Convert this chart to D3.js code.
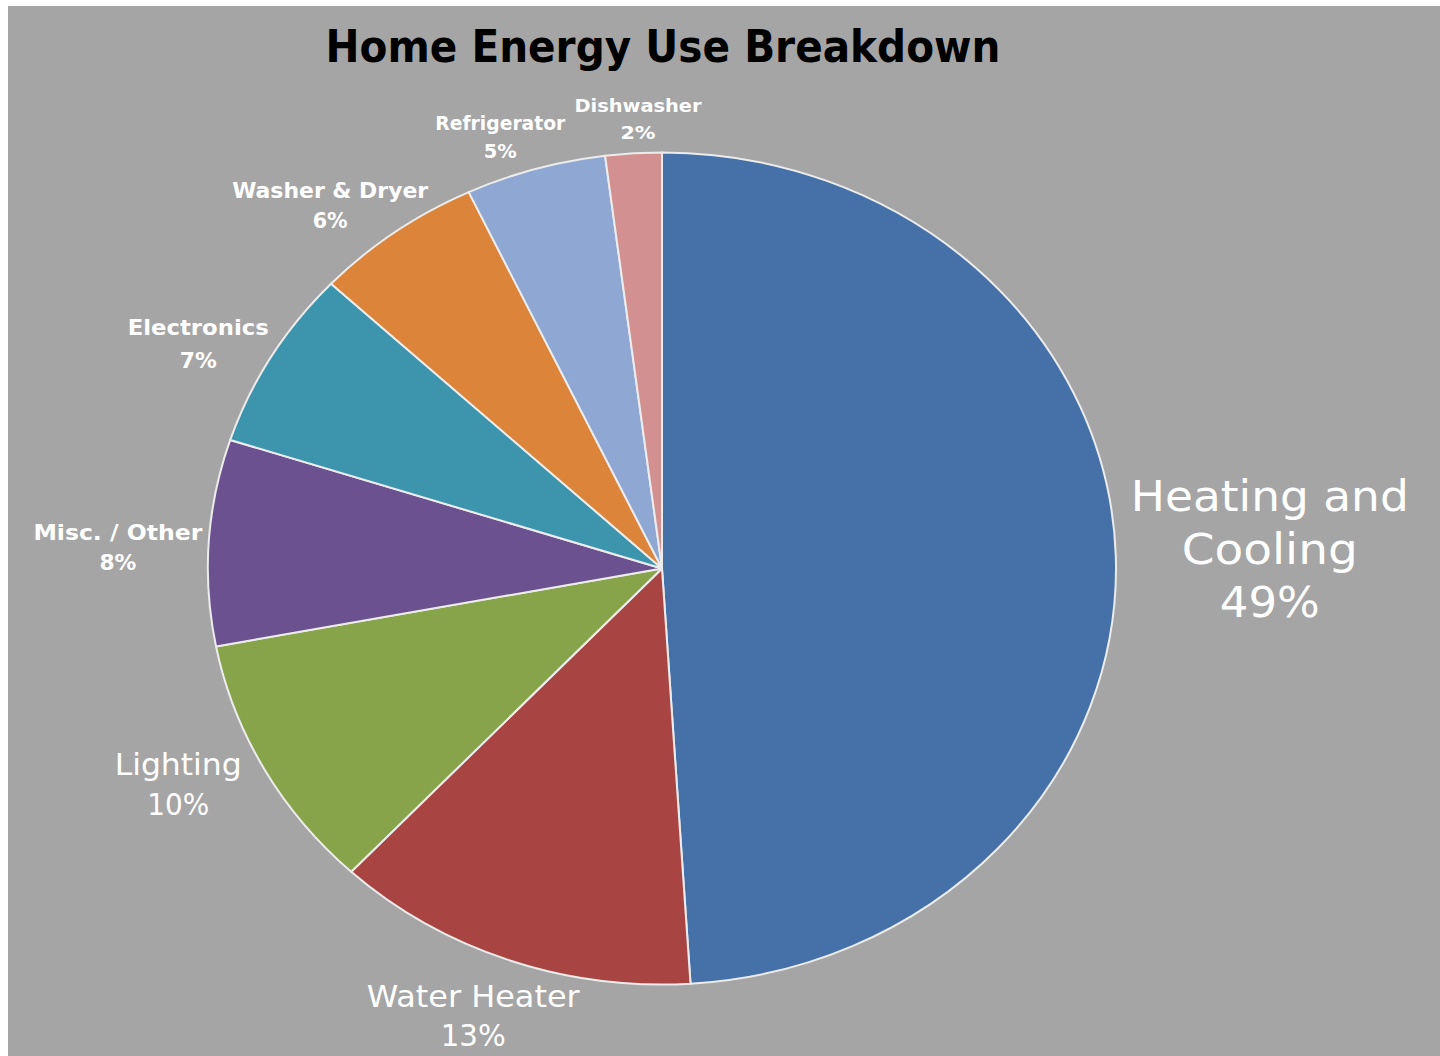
<!DOCTYPE html>
<html>
<head>
<meta charset="utf-8">
<script src="https://cdn.jsdelivr.net/npm/d3@7"></script>
<style>
  html, body { margin: 0; padding: 0; background: #ffffff; }
  svg { display: block; }
</style>
</head>
<body>
<svg id="chart" width="1440" height="1056"></svg>
<script>
// ---- data ----
const title = "Home Energy Use Breakdown";
const categories = ["Heating and\nCooling", "Water Heater", "Lighting", "Misc. / Other",
                    "Electronics", "Washer & Dryer", "Refrigerator", "Dishwasher"];
const values = [49, 13, 10, 8, 7, 6, 5, 2];
const colors = ["#4571a8", "#a84543", "#87a44b", "#6c5190",
                "#3d95ad", "#dd843b", "#8fa7d3", "#d29090"];

// ---- layout (label styling / placement relative to slice edge) ----
// [dx, dy] of first baseline from the outer edge point at the slice mid-angle
const labelOffsets = [[154, -44], [-35, 47], [-86, 6], [-91, -2], [-73, -22], [-65, -34], [-35, -39], [4.5, -41]];
const labelFont = [43, 31, 31, 22, 21, 22, 20, 18];
const labelBold = [false, false, false, true, true, true, true, true];
const labelLineGap = [53, 39, 40, 30, 33, 30, 28, 27];
const labelWidths = [[278, 176, 100], [213, 65], [127, 62], [169, 37], [141, 37], [196, 35], [130, 33], [127, 35]];

const W = 1440, H = 1056;
const svg = d3.select("#chart");

svg.append("rect").attr("x", 8).attr("y", 6).attr("width", W - 8).attr("height", H - 6)
   .attr("fill", "#a5a5a5");

svg.append("text")
   .attr("x", 663).attr("y", 62)
   .attr("text-anchor", "middle")
   .attr("font-family", "'DejaVu Sans', sans-serif")
   .attr("font-weight", "bold")
   .attr("font-size", 45)
   .attr("fill", "#000")
   .attr("textLength", 675)
   .attr("lengthAdjust", "spacingAndGlyphs")
   .text(title);

const cx = 662, cy = 568.5, rx = 454, ry = 416;
const pie = d3.pie().sort(null).value(d => d)(values);
const arc = d3.arc().innerRadius(0).outerRadius(ry);

const g = svg.append("g").attr("transform", `translate(${cx},${cy}) scale(${rx / ry},1)`);
g.selectAll("path").data(pie).join("path")
  .attr("d", arc)
  .attr("fill", (d, i) => colors[i])
  .attr("stroke", "#ececec")
  .attr("stroke-width", 2)
  .attr("stroke-linejoin", "round")
  .attr("vector-effect", "non-scaling-stroke");

const labels = svg.append("g");
pie.forEach((d, i) => {
  const mid = (d.startAngle + d.endAngle) / 2;
  const px = cx + Math.sin(mid) * rx;
  const py = cy - Math.cos(mid) * ry;
  const x = px + labelOffsets[i][0];
  const y0 = py + labelOffsets[i][1];
  const lines = categories[i].split("\n").concat([values[i] + "%"]);
  lines.forEach((ln, j) => {
    labels.append("text")
      .attr("x", x)
      .attr("y", y0 + j * labelLineGap[i])
      .attr("text-anchor", "middle")
      .attr("font-family", "'DejaVu Sans', sans-serif")
      .attr("font-weight", labelBold[i] ? "bold" : "normal")
      .attr("font-size", labelFont[i])
      .attr("fill", "#ffffff")
      .attr("textLength", labelWidths[i][j])
      .attr("lengthAdjust", "spacingAndGlyphs")
      .text(ln);
  });
});
</script>
</body>
</html>
